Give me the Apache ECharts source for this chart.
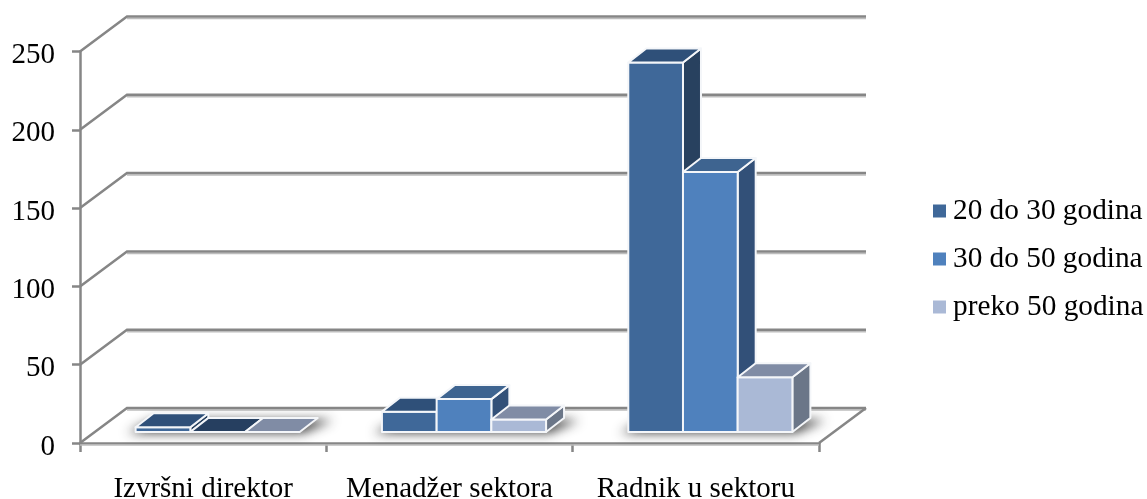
<!DOCTYPE html>
<html><head><meta charset="utf-8">
<style>html,body{margin:0;padding:0;background:#fff}#c{width:1147px;height:499px}</style>
<script src="https://cdn.jsdelivr.net/npm/echarts@6/dist/echarts.min.js"></script>
</head><body><div id="c"></div>
<script>
const categories = ['Izvršni direktor', 'Menadžer sektora', 'Radnik u sektoru'];
const seriesNames = ['20 do 30 godina', '30 do 50 godina', 'preko 50 godina'];
const s20do30 = [3, 13, 236];
const s30do50 = [0, 21, 166];
const sPreko50 = [0, 8, 35];
const yTicks = [0, 50, 100, 150, 200, 250];

const FRONT = ['#3F6899', '#4F81BD', '#AAB9D6'];
const TOP = ['#2F5079', '#3E6490', '#808CA5'];
const SIDE = ['#28415F', '#325078', '#6B7688'];
const ZERO_TOP = ['#2F5079', '#263F60', '#808CA5'];
const GRID = '#868686', GRID_SOFT = '#BDBDBD';
const WALL_DX = 47, WALL_DY = -35;
const FLOOR_DX = 15, FLOOR_DY = -11, DEPTH_DX = 18, DEPTH_DY = -14;
const BAR_FRACTION = 54.7 / 246.33;
const SHADOW_SHIFT = 3000;

function barX(api, cat, idx) {
  const band = api.size([1, 0])[0];
  const w = band * BAR_FRACTION;
  const c = api.coord([cat, 0])[0];
  return [c - 1.5 * w + idx * w + FLOOR_DX - 0.5, w];
}
function renderBar(idx) {
  return function (params, api) {
    const cat = api.value(0), v = api.value(1);
    const [x, w] = barX(api, cat, idx);
    const y0 = api.coord([cat, 0])[1] + FLOOR_DY;
    const y1 = api.coord([cat, v])[1] + FLOOR_DY;
    const line = { stroke: '#F4F6F9', lineWidth: 2, lineJoin: 'round' };
    const kids = [];
    const side = [[x + w, y1], [x + w + DEPTH_DX, y1 + DEPTH_DY], [x + w + DEPTH_DX, y0 + DEPTH_DY], [x + w, y0]];
    const top = [[x, y1], [x + DEPTH_DX, y1 + DEPTH_DY], [x + w + DEPTH_DX, y1 + DEPTH_DY], [x + w, y1]];
    if (v > 0) {
      kids.push({ type: 'polygon', shape: { points: side }, style: Object.assign({ fill: SIDE[idx] }, line) });
      kids.push({ type: 'rect', shape: { x: x, y: y1, width: w, height: y0 - y1 }, style: Object.assign({ fill: FRONT[idx] }, line) });
    }
    kids.push({ type: 'polygon', shape: { points: top }, style: Object.assign({ fill: v > 0 ? TOP[idx] : ZERO_TOP[idx] }, line) });
    return { type: 'group', children: kids };
  };
}
function renderWall(params, api) {
  const v = api.value(1);
  const band = api.size([1, 0])[0];
  const xl = api.coord([0, v])[0] - band / 2;
  const xr = api.coord([categories.length - 1, v])[0] + band / 2;
  const y = api.coord([0, v])[1];
  const pts = [[xl, y], [xl + WALL_DX, y + WALL_DY], [xr + WALL_DX, y + WALL_DY]];
  const kids = [
    { type: 'line', shape: { x1: xl + WALL_DX, y1: y + WALL_DY + 2, x2: xr + WALL_DX, y2: y + WALL_DY + 2 }, style: { stroke: GRID_SOFT, lineWidth: 1.5 } },
    { type: 'polyline', shape: { points: pts }, style: { stroke: GRID, lineWidth: 2.5, fill: null } }
  ];
  if (v === 0) {
    kids.push({ type: 'line', shape: { x1: xr, y1: y, x2: xr + WALL_DX, y2: y + WALL_DY }, style: { stroke: GRID, lineWidth: 2.5 } });
    kids.push({ type: 'line', shape: { x1: xl, y1: y + 2, x2: xr, y2: y + 2 }, style: { stroke: GRID_SOFT, lineWidth: 1.5 } });
  }
  return { type: 'group', children: kids };
}
function renderShadow(params, api) {
  const cat = api.value(0);
  const [x, w] = barX(api, cat, 0);
  const y0 = api.coord([cat, 0])[1] + FLOOR_DY;
  const pts = [[x - 8, y0 + 1], [x + 3 * w + 3, y0 + 1], [x + 3 * w + DEPTH_DX + 15, y0 + DEPTH_DY + 2], [x + DEPTH_DX, y0 + DEPTH_DY + 2]]
    .map(p => [p[0] - SHADOW_SHIFT, p[1]]);
  return { type: 'polygon', shape: { points: pts }, style: { fill: '#000', shadowBlur: 11, shadowOffsetX: SHADOW_SHIFT, shadowColor: 'rgba(40,40,40,0.9)' } };
}
const pairs = a => a.map((v, i) => [i, v]);
const chart = echarts.init(document.getElementById('c'), null, { renderer: 'canvas' });
const axisFont = { fontFamily: 'Liberation Serif', fontSize: 29, color: '#000' };
chart.setOption({
  animation: false,
  backgroundColor: '#fff',
  grid: { left: 80, top: 51.5, width: 739, height: 391.5, outerBoundsMode: 'none' },
  legend: {
    orient: 'vertical', left: 928, top: 191.5, itemWidth: 13, itemHeight: 13, itemGap: 19,
    icon: 'rect', selectedMode: false, data: seriesNames,
    textStyle: { fontFamily: 'Liberation Serif', fontSize: 29.3, color: '#000', padding: [0, 0, 0, 2] }
  },
  xAxis: {
    type: 'category', data: categories,
    axisLine: { lineStyle: { color: GRID, width: 2.5 } },
    axisTick: { show: true, alignWithLabel: false, length: 9, lineStyle: { color: GRID, width: 2.5 } },
    axisLabel: Object.assign({ margin: 32, interval: 0 }, axisFont)
  },
  yAxis: {
    type: 'value', min: 0, max: 250, interval: 50,
    axisLine: { show: true, lineStyle: { color: GRID, width: 2.5 } },
    axisTick: { show: true, length: 8, lineStyle: { color: GRID, width: 2.5 } },
    splitLine: { show: false },
    axisLabel: {
      margin: 25, formatter: '{a|{value}}',
      rich: { a: Object.assign({ padding: [8, 0, 0, 0] }, axisFont) }
    }
  },
  series: [
    { type: 'custom', name: 'wall', silent: true, z: 1, renderItem: renderWall, data: yTicks.map(v => [0, v]), encode: { x: 0, y: 1 } },
    { type: 'custom', name: 'shadow', silent: true, z: 2, renderItem: renderShadow, data: categories.map((c, i) => [i, 0]), encode: { x: 0, y: 1 } },
    { type: 'custom', name: seriesNames[0], z: 3, itemStyle: { color: FRONT[0] }, renderItem: renderBar(0), data: pairs(s20do30), encode: { x: 0, y: 1 } },
    { type: 'custom', name: seriesNames[1], z: 4, itemStyle: { color: FRONT[1] }, renderItem: renderBar(1), data: pairs(s30do50), encode: { x: 0, y: 1 } },
    { type: 'custom', name: seriesNames[2], z: 5, itemStyle: { color: FRONT[2] }, renderItem: renderBar(2), data: pairs(sPreko50), encode: { x: 0, y: 1 } }
  ]
});
</script></body></html>
